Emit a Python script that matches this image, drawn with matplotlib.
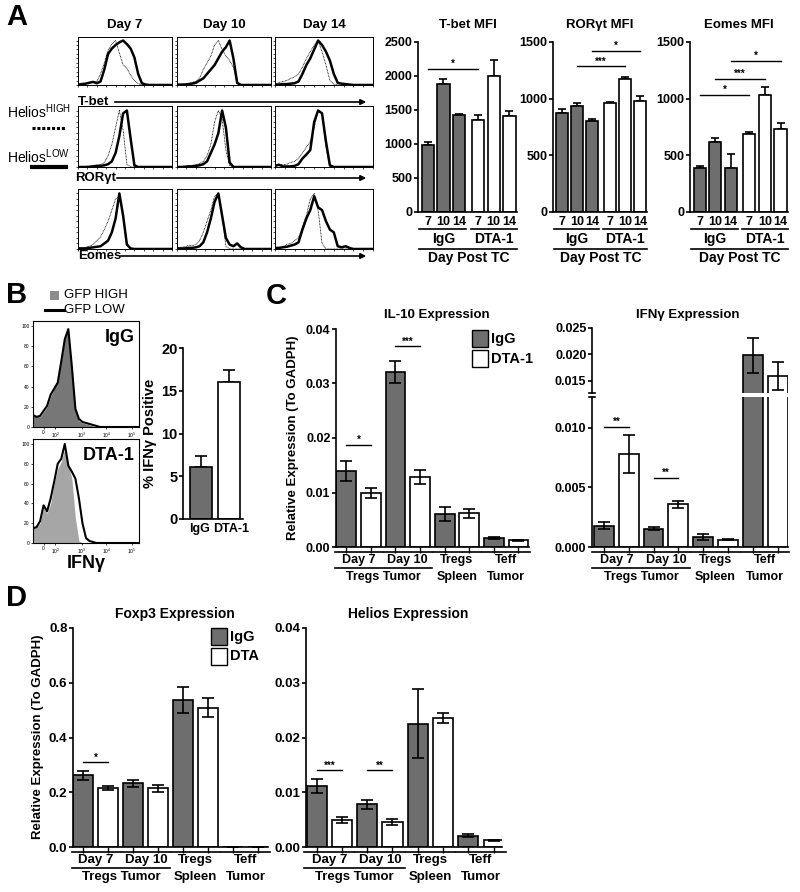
import numpy as np
import matplotlib
matplotlib.use('Agg')
import matplotlib.pyplot as plt
from matplotlib.patches import Rectangle, FancyArrowPatch
from matplotlib.lines import Line2D
from matplotlib.transforms import blended_transform_factory

plt.rcParams['font.family'] = ['Liberation Sans', 'DejaVu Sans']
plt.rcParams['font.weight'] = 'bold'
plt.rcParams['axes.labelweight'] = 'bold'
plt.rcParams['mathtext.default'] = 'regular'

W, H = 800, 892
GRAY = '#6e6e6e'

# ---------------- data ----------------
hist_days = ['Day 7', 'Day 10', 'Day 14']
hist_markers = ['T-bet', 'RORγt', 'Eomes']

# flow histograms panel A (% of max), Helios HIGH (dotted) / LOW (solid)
tbet_d7_hi = [2, 4, 3, 5, 6, 8, 25, 50, 78, 92, 100, 72, 45, 38, 22, 10, 3, 1, 0, 0, 0, 0, 0, 0, 0, 0]
tbet_d7_lo = [1, 2, 3, 5, 7, 4, 8, 35, 70, 82, 90, 96, 100, 92, 82, 62, 25, 4, 1, 0, 0, 0, 0, 0, 0, 0]
tbet_d10_hi = [1, 1, 2, 3, 6, 8, 15, 35, 50, 65, 90, 100, 80, 65, 55, 40, 2, 0, 0, 0, 0, 0, 0, 0, 0, 0]
tbet_d10_lo = [1, 1, 1, 2, 3, 5, 10, 15, 25, 35, 45, 60, 75, 85, 100, 60, 5, 0, 0, 0, 0, 0, 0, 0, 0, 0]
tbet_d14_hi = [2, 5, 8, 10, 15, 18, 25, 40, 60, 75, 90, 100, 75, 45, 10, 2, 0, 0, 0, 0, 0, 0, 0, 0, 0, 0]
tbet_d14_lo = [1, 1, 2, 2, 3, 4, 8, 25, 45, 60, 80, 100, 90, 75, 55, 25, 5, 3, 2, 1, 0, 0, 0, 0, 0, 0]
ror_d7_hi = [1, 1, 1, 2, 3, 3, 4, 8, 20, 40, 70, 100, 65, 5, 0, 0, 0, 0, 0, 0, 0, 0, 0, 0, 0, 0]
ror_d7_lo = [0, 0, 0, 0, 1, 2, 2, 3, 5, 10, 25, 55, 95, 100, 50, 3, 0, 0, 0, 0, 0, 0, 0, 0, 0, 0]
ror_d10_hi = [1, 1, 2, 2, 3, 4, 6, 10, 20, 40, 80, 100, 85, 30, 3, 0, 0, 0, 0, 0, 0, 0, 0, 0, 0, 0]
ror_d10_lo = [0, 0, 0, 1, 1, 2, 3, 5, 10, 25, 40, 60, 100, 70, 8, 0, 0, 0, 0, 0, 0, 0, 0, 0, 0, 0]
ror_d14_hi = [3, 4, 4, 5, 8, 10, 15, 25, 35, 45, 70, 100, 95, 35, 0, 0, 0, 0, 0, 0, 0, 0, 0, 0, 0, 0]
ror_d14_lo = [2, 4, 1, 1, 1, 2, 5, 15, 22, 30, 80, 100, 95, 45, 3, 0, 0, 0, 0, 0, 0, 0, 0, 0, 0, 0]
eomes_d7_hi = [1, 2, 3, 5, 8, 15, 22, 35, 50, 70, 90, 95, 60, 10, 0, 0, 0, 0, 0, 0, 0, 0, 0, 0, 0, 0]
eomes_d7_lo = [1, 1, 1, 2, 3, 4, 5, 10, 15, 30, 55, 100, 60, 8, 1, 0, 0, 0, 0, 0, 0, 0, 0, 0, 0, 0]
eomes_d10_hi = [2, 3, 4, 6, 6, 8, 15, 30, 50, 70, 95, 100, 60, 5, 0, 0, 0, 0, 0, 0, 0, 0, 0, 0, 0, 0]
eomes_d10_lo = [1, 1, 1, 2, 2, 3, 5, 12, 30, 55, 85, 100, 60, 20, 8, 5, 10, 3, 0, 0, 0, 0, 0, 0, 0, 0]
eomes_d14_hi = [1, 2, 4, 8, 10, 15, 20, 40, 60, 90, 100, 70, 10, 0, 0, 0, 0, 0, 0, 0, 0, 0, 0, 0, 0, 0]
eomes_d14_lo = [2, 2, 3, 4, 6, 8, 12, 35, 55, 70, 95, 75, 70, 50, 35, 30, 5, 3, 5, 2, 0, 0, 0, 0, 0, 0]

# MFI bars: IgG day 7/10/14, DTA-1 day 7/10/14
mfi_days = ['7', '10', '14', '7', '10', '14']
tbet_mfi = [985, 1875, 1425, 1360, 1995, 1410]
tbet_err = [40, 75, 15, 65, 235, 80]
ror_mfi = [870, 932, 805, 964, 1170, 980]
ror_err = [35, 33, 20, 8, 25, 45]
eomes_mfi = [392, 620, 385, 684, 1035, 728]
eomes_err = [18, 30, 130, 20, 70, 60]
tbet_sig = [(0, 3, 2110, '*')]
ror_sig = [(1, 4, 1285, '***'), (2, 5, 1420, '*')]
eomes_sig = [(0, 3, 1030, '*'), (1, 4, 1175, '***'), (2, 5, 1335, '*')]

# panel B histograms (GFP HIGH fill / GFP LOW line)
igg_gfp_hi = [12, 11, 10, 15, 20, 30, 38, 45, 65, 88, 95, 55, 15, 6, 4, 3, 2, 1, 0, 0, 0, 0, 0, 0, 0, 0, 0, 0, 0, 0, 0]
igg_gfp_lo = [12, 10, 11, 16, 21, 32, 38, 44, 65, 87, 97, 60, 18, 8, 5, 4, 3, 2, 1, 0, 0, 0, 0, 0, 0, 0, 0, 0, 0, 0, 0]
dta_gfp_hi = [15, 16, 20, 35, 30, 40, 60, 75, 82, 95, 80, 65, 25, 2, 0, 0, 0, 0, 0, 0, 0, 0, 0, 0, 0, 0, 0, 0, 0, 0, 0]
dta_gfp_lo = [15, 16, 22, 38, 32, 45, 62, 80, 85, 100, 78, 72, 65, 45, 20, 5, 2, 1, 0, 0, 0, 0, 0, 0, 0, 0, 0, 0, 0, 0, 0]
ifng_groups = ['IgG', 'DTA-1']
ifng_pct = [6.1, 16.0]
ifng_pct_err = [1.3, 1.4]

# qPCR: Day 7, Day 10, Tregs spleen, Teff tumor
il10_igg = [0.0140, 0.0321, 0.0061, 0.0016]
il10_igg_err = [0.0018, 0.0020, 0.0013, 0.0002]
il10_dta = [0.0099, 0.0128, 0.0062, 0.0012]
il10_dta_err = [0.0009, 0.0013, 0.0008, 0.0001]
il10_sig = [(0, 1, 0.0188, '*'), (2, 3, 0.0368, '***')]

ifng_igg = [0.0018, 0.00155, 0.00082, 0.0198]
ifng_igg_err = [0.0003, 0.00015, 0.00025, 0.0034]
ifng_dta = [0.0078, 0.00358, 0.00062, 0.0159]
ifng_dta_err = [0.0016, 0.0003, 0.00006, 0.0026]
ifng_sig = [(0, 1, 0.0101, '**'), (2, 3, 0.00577, '**')]

foxp3_igg = [0.262, 0.232, 0.537, 0.001]
foxp3_igg_err = [0.016, 0.013, 0.047, 0.0]
foxp3_dta = [0.216, 0.214, 0.509, 0.0005]
foxp3_dta_err = [0.008, 0.012, 0.035, 0.0]
foxp3_sig = [(0, 1, 0.309, '*')]

helios_igg = [0.0112, 0.0078, 0.0225, 0.0021]
helios_igg_err = [0.0013, 0.0008, 0.0063, 0.0002]
helios_dta = [0.0049, 0.0046, 0.0235, 0.0012]
helios_dta_err = [0.0006, 0.0006, 0.0009, 0.0001]
helios_sig = [(0, 1, 0.0140, '***'), (2, 3, 0.0140, '**')]

pair_top = ['Day 7', 'Day 10', 'Tregs', 'Teff']
pair_bottom = ['', '', 'Spleen', 'Tumor']

# ---------------- helpers ----------------
fig = plt.figure(figsize=(8, 8.92), dpi=100)


def fx(x):
    return x / W


def fy(y):
    return 1 - y / H


def add_box(x0, y0, x1, y1):
    return fig.add_axes([fx(x0), fy(y1), (x1 - x0) / W, (y1 - y0) / H])


def ftext(x, y, s, size, ha='left', weight='bold', **kw):
    fig.text(fx(x), fy(y), s, fontsize=size, ha=ha, va='center', fontweight=weight, **kw)


def fline(x0, x1, y0, y1, lw=1.2, **kw):
    fig.add_artist(Line2D([fx(x0), fx(x1)], [fy(y0), fy(y1)], transform=fig.transFigure,
                          color='k', lw=lw, **kw))


def bar_style(ax, size):
    for s in ['top', 'right']:
        ax.spines[s].set_visible(False)
    for s in ['left', 'bottom']:
        ax.spines[s].set_linewidth(1.2)
    ax.tick_params(axis='y', length=3, width=1.2, labelsize=size, pad=1)


def below(ax, x0, x1, ypx, lw=1.2):
    tr = blended_transform_factory(ax.transData, fig.transFigure)
    ax.plot([x0, x1], [fy(ypx)] * 2, transform=tr, color='k', lw=lw, clip_on=False)


def below_text(ax, x, ypx, s, size):
    tr = blended_transform_factory(ax.transData, fig.transFigure)
    ax.text(x, fy(ypx), s, transform=tr, ha='center', va='center', fontsize=size, fontweight='bold')


def sig_marks(ax, pos, sig, size=7):
    for i, j, y, s in sig:
        ax.plot([pos[i], pos[j]], [y, y], color='k', lw=1.0, clip_on=False)
        ax.text((pos[i] + pos[j]) / 2, y, s, ha='center', va='bottom', fontsize=size)


# ---------------- panel letters ----------------
for s, x, y in [('A', 6, 17), ('B', 6, 295), ('C', 266, 296), ('D', 6, 598)]:
    ftext(x, y, s, 21)

# ---------------- panel A histograms ----------------
a_hist = [[(tbet_d7_hi, tbet_d7_lo), (tbet_d10_hi, tbet_d10_lo), (tbet_d14_hi, tbet_d14_lo)],
          [(ror_d7_hi, ror_d7_lo), (ror_d10_hi, ror_d10_lo), (ror_d14_hi, ror_d14_lo)],
          [(eomes_d7_hi, eomes_d7_lo), (eomes_d10_hi, eomes_d10_lo), (eomes_d14_hi, eomes_d14_lo)]]
col_x = [(78, 172), (177, 271), (275, 373)]
row_y = [(37, 85), (106, 167), (189, 249)]
arrow_y = [102, 178, 256]
label_end = [112, 114, 118]
hx = np.linspace(0, 1, 26)

for r in range(3):
    for c in range(3):
        ax = add_box(col_x[c][0], row_y[r][0], col_x[c][1], row_y[r][1])
        hi, lo = a_hist[r][c]
        ax.plot(hx, hi, color='k', lw=0.6, ls=(0, (1, 0.8)))
        ax.plot(hx, lo, color='k', lw=1.8)
        ax.set_xlim(0, 1)
        ax.set_ylim(0, 108)
        ax.set_xticks(np.linspace(0, 1, 11))
        ax.set_yticks(np.linspace(0, 100, 11))
        ax.tick_params(length=1.5, width=0.5, labelbottom=False, labelleft=False)
        for sp in ax.spines.values():
            sp.set_linewidth(0.7)
    ftext(78 if r != 1 else 75, arrow_y[r], hist_markers[r], 9.5)
    fig.add_artist(FancyArrowPatch((fx(label_end[r]), fy(arrow_y[r])), (fx(369), fy(arrow_y[r])),
                                   transform=fig.transFigure, arrowstyle='-|>', mutation_scale=8,
                                   lw=1.2, color='k'))

for c in range(3):
    ftext((col_x[c][0] + col_x[c][1]) / 2, 25, hist_days[c], 9.5, ha='center')

ftext(7, 112, r'Helios$^{\mathregular{HIGH}}$', 10, weight='normal')
fline(32, 66, 128, 128, lw=2.2, ls=(0, (1, 0.6)))
ftext(7, 157, r'Helios$^{\mathregular{LOW}}$', 10, weight='normal')
fline(32, 66, 167, 167, lw=3)

# ---------------- panel A MFI bars ----------------
mfi_pos = np.array([0, 1, 2, 3.2, 4.2, 5.2])
mfi_colors = [GRAY] * 3 + ['white'] * 3
mfi_panels = [((418, 517), 'T-bet MFI', tbet_mfi, tbet_err, 2500, tbet_sig),
              ((553, 647), 'RORγt MFI', ror_mfi, ror_err, 1500, ror_sig),
              ((690, 788), 'Eomes MFI', eomes_mfi, eomes_err, 1500, eomes_sig)]
for (x0, x1), title, vals, errs, ymax, sig in mfi_panels:
    ax = add_box(x0, 42, x1, 212)
    ax.bar(mfi_pos, vals, width=0.78, color=mfi_colors, edgecolor='k', lw=1.2, zorder=2)
    ax.errorbar(mfi_pos, vals, yerr=[np.zeros(6), errs], fmt='none', ecolor='k',
                elinewidth=1.2, capsize=3, capthick=1.2, zorder=1)
    ax.set_xlim(-0.62, 5.68)
    ax.set_ylim(0, ymax)
    ax.set_yticks(np.arange(0, ymax + 1, 500))
    ax.set_xticks([])
    bar_style(ax, 9)
    sig_marks(ax, mfi_pos, sig)
    ftext((x0 + x1) / 2, 25, title, 9.5, ha='center')
    for p, d in zip(mfi_pos, mfi_days):
        below_text(ax, p, 222, d, 9)
    below(ax, -0.55, 2.45, 229)
    below(ax, 2.75, 5.65, 229)
    below_text(ax, 1, 239, 'IgG', 10)
    below_text(ax, 4.2, 239, 'DTA-1', 10)
    below(ax, -0.55, 5.65, 249)
    below_text(ax, 2.6, 258, 'Day Post TC', 10)

# ---------------- panel B ----------------
fig.add_artist(Rectangle((fx(50), fy(300)), 9 / W, 9 / H, transform=fig.transFigure,
                         facecolor='#8c8c8c', edgecolor='none'))
ftext(64, 295, 'GFP HIGH', 9.5, weight='normal')
fline(45, 64, 310, 310, lw=2.2)
ftext(64, 310, 'GFP LOW', 9.5, weight='normal')

bx = np.linspace(0, 1, 31)
b_hist = [((321, 427), igg_gfp_hi, igg_gfp_lo, '#777777', 'IgG'),
          ((439, 543), dta_gfp_hi, dta_gfp_lo, '#a6a6a6', 'DTA-1')]
for (y0, y1), hi, lo, col, name in b_hist:
    ax = add_box(33, y0, 139, y1)
    ax.fill_between(bx, 0, hi, color=col, lw=0)
    ax.plot(bx, lo, color='k', lw=1.5)
    ax.set_xlim(0, 1)
    ax.set_ylim(0, 105)
    ax.set_yticks([0, 20, 40, 60, 80, 100])
    ax.set_xticks([0.10, 0.21, 0.46, 0.69, 0.93])
    ax.set_xticklabels(['0', '$10^2$', '$10^3$', '$10^4$', '$10^5$'])
    ax.tick_params(length=1.5, width=0.5, labelsize=3.5, pad=1)
    for t in ax.get_xticklabels() + ax.get_yticklabels():
        t.set_fontweight('normal')
    for sp in ax.spines.values():
        sp.set_linewidth(0.8)
    ax.text(0.96, 0.84, name, transform=ax.transAxes, ha='right', va='center', fontsize=13)
ftext(86, 563, 'IFNγ', 13, ha='center')

ax = add_box(183, 348, 243, 519)
ax.bar([0, 1], ifng_pct, width=0.8, color=[GRAY, 'white'], edgecolor='k', lw=1.2, zorder=2)
ax.errorbar([0, 1], ifng_pct, yerr=[[0, 0], ifng_pct_err], fmt='none', ecolor='k',
            elinewidth=1.2, capsize=4.5, capthick=1.2, zorder=1)
ax.set_xlim(-0.64, 1.5)
ax.set_ylim(0, 20)
ax.set_yticks([0, 5, 10, 15, 20])
ax.set_xticks([-0.05, 1.07])
ax.set_xticklabels(ifng_groups)
bar_style(ax, 10.5)
ax.tick_params(axis='x', length=0, labelsize=9, pad=3)
ax.set_ylabel('% IFNγ Positive', fontsize=10.5, labelpad=3)

# ---------------- panels C / D expression charts ----------------
epos = np.arange(8)


def interleave(a, b):
    return np.ravel(np.column_stack([a, b]))


ecolors = [GRAY, 'white'] * 4


def draw_bars(ax, igg, igg_err, dta, dta_err, cap=4.5):
    vals = interleave(igg, dta)
    errs = interleave(igg_err, dta_err)
    ax.bar(epos, vals, width=0.8, color=ecolors, edgecolor='k', lw=1.2, zorder=2)
    ax.errorbar(epos, vals, yerr=errs, fmt='none', ecolor='k', elinewidth=1.2,
                capsize=cap, capthick=1.2, zorder=3)


def group_labels(ax, ybot, size):
    ax.set_xticks(epos)
    ax.tick_params(axis='x', length=4, width=1.0, labelbottom=False, direction='out')
    for k in range(4):
        below(ax, 2 * k - 0.48, 2 * k + 1.48, ybot + 5)
        below_text(ax, 2 * k + 0.5, ybot + 13, pair_top[k], size)
        if pair_bottom[k]:
            below_text(ax, 2 * k + 0.5, ybot + 30, pair_bottom[k], size)
    below(ax, -0.48, 3.48, ybot + 21)
    below_text(ax, 1.5, ybot + 30, 'Tregs Tumor', size)


def legend_box(x, y, labels, size):
    for k, (col, lab) in enumerate(zip([GRAY, 'white'], labels)):
        yy = y + k * 20
        fig.add_artist(Rectangle((fx(x), fy(yy + 17)), 16 / W, 17 / H, transform=fig.transFigure,
                                 facecolor=col, edgecolor='k', lw=1.0))
        ftext(x + 19, yy + 8.5, lab, size)


def expr_chart(box, igg, igg_err, dta, dta_err, ymax, step, fmt, sig, title, size, xmax):
    x0, y0, x1, y1 = box
    ax = add_box(x0, y0, x1, y1)
    draw_bars(ax, igg, igg_err, dta, dta_err)
    ax.set_xlim(-0.42, xmax)
    ax.set_ylim(0, ymax)
    ticks = np.arange(0, ymax + step / 2, step)
    ax.set_yticks(ticks)
    ax.set_yticklabels([fmt % t for t in ticks])
    bar_style(ax, size)
    group_labels(ax, y1, size)
    sig_marks(ax, epos, sig)
    ftext((x0 + x1) / 2 + 4, y0 - 14, title, size + 0.5, ha='center')
    return ax


expr_chart((336, 329, 529, 547), il10_igg, il10_igg_err, il10_dta, il10_dta_err,
           0.04, 0.01, '%.2f', il10_sig, 'IL-10 Expression', 9, 7.43)
ftext(293, 438, 'Relative Expression (To GADPH)', 9.5, ha='center', rotation=90)
legend_box(472, 330, ['IgG', 'DTA-1'], 10.5)

# IFNg broken axis
ax_lo = add_box(592, 397, 788, 547)
ax_hi = add_box(592, 328, 788, 393)
for a in [ax_lo, ax_hi]:
    draw_bars(a, ifng_igg, ifng_igg_err, ifng_dta, ifng_dta_err)
    a.set_xlim(-0.48, 7.42)
    bar_style(a, 9)
ax_lo.set_ylim(0, 0.0126)
ax_lo.set_yticks([0, 0.005, 0.010])
ax_lo.set_yticklabels(['0.000', '0.005', '0.010'])
ax_hi.set_ylim(0.0127, 0.025)
ax_hi.set_yticks([0.015, 0.020, 0.025])
ax_hi.set_yticklabels(['0.015', '0.020', '0.025'])
ax_hi.spines['bottom'].set_visible(False)
ax_hi.set_xticks([])
group_labels(ax_lo, 547, 9)
sig_marks(ax_lo, epos, ifng_sig)
fline(589, 595, 393, 393, lw=1.2)
fline(589, 595, 397, 397, lw=1.2)
ftext(688, 315, 'IFNγ Expression', 9.5, ha='center')

expr_chart((73, 628, 268, 847), foxp3_igg, foxp3_igg_err, foxp3_dta, foxp3_dta_err,
           0.8, 0.2, '%.1f', foxp3_sig, 'Foxp3 Expression', 9.5, 7.39)
ftext(38, 737, 'Relative Expression (To GADPH)', 9.5, ha='center', rotation=90)
legend_box(211, 628, ['IgG', 'DTA'], 10.5)

expr_chart((306, 628, 502, 847), helios_igg, helios_igg_err, helios_dta, helios_dta_err,
           0.04, 0.01, '%.2f', helios_sig, 'Helios Expression', 9.5, 7.33)

fig.savefig('out.png', dpi=100)
